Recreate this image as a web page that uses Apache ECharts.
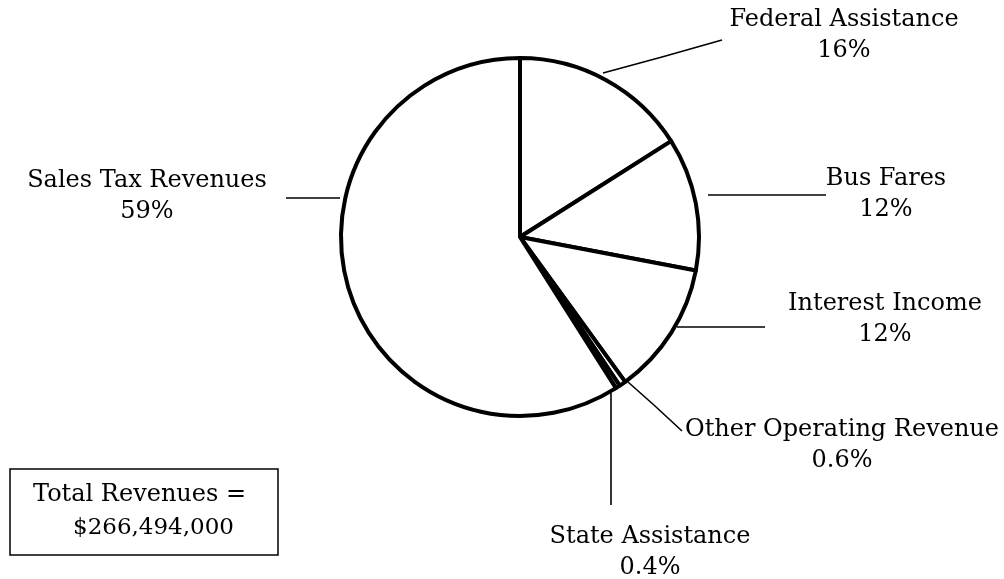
<!DOCTYPE html>
<html>
<head>
<meta charset="utf-8">
<style>
  html, body { margin: 0; padding: 0; background: #fff; }
  #chart { width: 1004px; height: 579px; }
</style>
<script src="https://cdn.jsdelivr.net/npm/echarts@6/dist/echarts.min.js"></script>
</head>
<body>
<div id="chart"></div>
<script>
// Revenue sources, clockwise from 12 o'clock (percent of total)
const categories = [
  'Federal Assistance',
  'Bus Fares',
  'Interest Income',
  'Other Operating Revenue',
  'State Assistance',
  'Sales Tax Revenues'
];
const shares = [16, 12, 12, 0.6, 0.4, 59];
const totalLines = ['Total Revenues =', '$266,494,000'];

// Where each callout sits: text block centre and its leader line
const calloutSpots = [
  { x: 844, y: 35,  line: [[603, 73], [662, 57], [722, 40]] },
  { x: 886, y: 194, line: [[708, 195], [767, 195], [826, 195]] },
  { x: 885, y: 319, line: [[677, 327], [721, 327], [765, 327]] },
  { x: 842, y: 445, line: [[628, 382], [655, 406], [682, 431]] },
  { x: 650, y: 552, line: [[611, 393], [611, 450], [611, 505]] },
  { x: 147, y: 196, line: [[286, 198], [313, 198], [340, 198]] }
];

const FONT = 'DejaVu Serif';
const chart = echarts.init(document.getElementById('chart'), null, { renderer: 'canvas' });

chart.setOption({
  backgroundColor: '#ffffff',
  animation: false,
  series: [{
    type: 'pie',
    center: [520, 237],
    radius: 179,
    startAngle: 90,
    clockwise: true,
    avoidLabelOverlap: false,
    silent: true,
    itemStyle: {
      color: '#ffffff',
      borderColor: '#000000',
      borderWidth: 4,
      borderJoin: 'round'
    },
    emphasis: { disabled: true },
    label: {
      show: true,
      position: 'outside',
      formatter: p => p.name + '\n' + p.value + '%',
      fontFamily: FONT,
      fontSize: 24,
      lineHeight: 31,
      color: '#000000',
      align: 'center'
    },
    labelLine: {
      show: true,
      lineStyle: { color: '#000000', width: 1.6 }
    },
    labelLayout: params => {
      const s = calloutSpots[params.dataIndex];
      return {
        x: s.x,
        y: s.y,
        align: 'center',
        verticalAlign: 'middle',
        labelLinePoints: s.line
      };
    },
    data: categories.map((name, i) => ({ name, value: shares[i] }))
  }],
  graphic: [
    {
      type: 'rect',
      shape: { x: 10, y: 469, width: 268, height: 86 },
      style: { fill: '#ffffff', stroke: '#000000', lineWidth: 1.5 }
    },
    {
      type: 'text',
      x: 33, y: 495,
      style: {
        text: totalLines[0],
        font: '24px "' + FONT + '"',
        fill: '#000000',
        verticalAlign: 'middle'
      }
    },
    {
      type: 'text',
      x: 73, y: 528,
      style: {
        text: totalLines[1],
        font: '23px "' + FONT + '"',
        fill: '#000000',
        verticalAlign: 'middle'
      }
    }
  ]
});
</script>
</body>
</html>
